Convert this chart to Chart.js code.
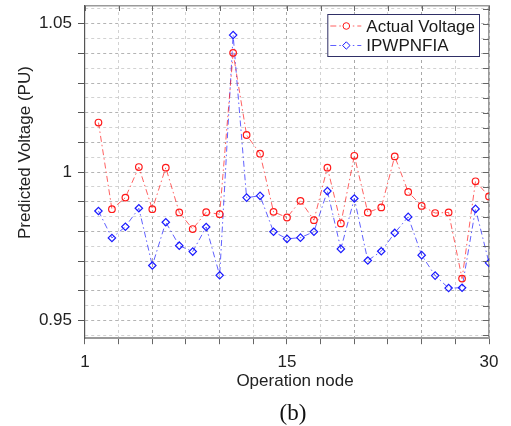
<!DOCTYPE html>
<html>
<head>
<meta charset="utf-8">
<script src="https://cdn.jsdelivr.net/npm/chart.js"></script>
<style>
  html, body { margin: 0; padding: 0; background: #fff; }
  #wrap { width: 511px; height: 426px; }
</style>
</head>
<body>
<div id="wrap"><canvas id="voltageChart" width="511" height="426"></canvas></div>
<script>
// values
const nodes = [1, 2, 3, 4, 5, 6, 7, 8, 9, 10, 11, 12, 13, 14, 15, 16, 17, 18, 19, 20, 21, 22, 23, 24, 25, 26, 27, 28, 29, 30];
const actualVoltage = [1.0167, 0.9875, 0.9914, 1.0017, 0.9875, 1.0015, 0.9864, 0.9808, 0.9865, 0.9858,
    1.0402, 1.0125, 1.0062, 0.9866, 0.9847, 0.9903, 0.9838, 1.0015, 0.9827, 1.0055,
    0.9864, 0.9881, 1.0053, 0.9933, 0.9886, 0.9862, 0.9864, 0.9641, 0.9969, 0.9918];
const ipwpnfia = [0.9869, 0.9778, 0.9816, 0.9878, 0.9685, 0.9831, 0.9752, 0.9732, 0.9815, 0.9652,
    1.0462, 0.9914, 0.9920, 0.9799, 0.9775, 0.9779, 0.9799, 0.9936, 0.9741, 0.9911,
    0.9702, 0.9733, 0.9795, 0.9849, 0.9720, 0.9651, 0.9609, 0.9610, 0.9876, 0.9694];
const seriesNames = ['Actual Voltage', 'IPWPNFIA'];
const xTickValues = [0, 15, 30];
const xTickLabels = ['1', '15', '30'];
const yTickValues = [0.95, 1, 1.05];
const yTickLabels = ['0.95', '1', '1.05'];
const xTitle = 'Operation node';
const yTitle = 'Predicted Voltage (PU)';
const subCaption = '(b)';

const FONT = "'Liberation Sans', Arial, sans-serif";
const SERIF = "'Liberation Serif', 'Times New Roman', serif";
const near = (a, b) => Math.abs(a - b) < 1e-6;
const isCent = v => near(Math.round(v * 100) / 100, v);
const toPoints = (vals) => vals.map((v, i) => ({ x: nodes[i], y: v }));

// legend box inside the axes, top right
const boxLegend = {
    id: 'boxLegend',
    afterDraw(chart) {
        const ctx = chart.ctx;
        const area = chart.chartArea;
        ctx.save();
        ctx.font = '17px ' + FONT;
        let textW = 0;
        seriesNames.forEach(n => { textW = Math.max(textW, ctx.measureText(n).width); });
        const w = textW + 43, h = 42;
        const left = area.right - 10 - w, top = area.top + 8;
        ctx.fillStyle = '#fff';
        ctx.fillRect(left, top, w, h);
        ctx.strokeStyle = '#2f2f66';
        ctx.lineWidth = 1;
        ctx.strokeRect(left + 0.5, top + 0.5, w, h);
        chart.data.datasets.forEach((ds, i) => {
            const y = top + 12 + i * 19.5;
            ctx.strokeStyle = ds.borderColor;
            ctx.setLineDash(ds.borderDash);
            ctx.beginPath();
            ctx.moveTo(left + 3, y);
            ctx.lineTo(left + 34, y);
            ctx.stroke();
            ctx.setLineDash([]);
            ctx.strokeStyle = ds.pointBorderColor;
            ctx.fillStyle = '#fff';
            const cx = left + 19, r = ds.pointRadius;
            ctx.beginPath();
            if (ds.pointStyle === 'rectRot') {
                ctx.moveTo(cx - r, y); ctx.lineTo(cx, y - r); ctx.lineTo(cx + r, y); ctx.lineTo(cx, y + r); ctx.closePath();
            } else {
                ctx.arc(cx, y, r, 0, Math.PI * 2);
            }
            ctx.fill();
            ctx.stroke();
            ctx.fillStyle = '#1a1a1a';
            ctx.textBaseline = 'middle';
            ctx.fillText(seriesNames[i], left + 39, y + 1);
        });
        ctx.restore();
    }
};

// inward tick marks on top and right frame
const frameTicks = {
    id: 'frameTicks',
    afterDatasetsDraw(chart) {
        const ctx = chart.ctx, a = chart.chartArea;
        const sx = chart.scales.x, sy = chart.scales.y;
        ctx.save();
        ctx.strokeStyle = '#666';
        ctx.lineWidth = 1;
        ctx.beginPath();
        sx.ticks.forEach(t => {
            const px = Math.round(sx.getPixelForValue(t.value)) + 0.5;
            ctx.moveTo(px, a.top); ctx.lineTo(px, a.top + 5);
        });
        sy.ticks.forEach(t => {
            const py = Math.round(sy.getPixelForValue(t.value)) + 0.5;
            ctx.moveTo(a.right, py); ctx.lineTo(a.right - 6, py);
        });
        ctx.stroke();
        ctx.restore();
    }
};

// axis titles sit a little off-centre in the original figure;
// the scale titles only reserve the space, these draw the text
const offsetTitles = {
    id: 'offsetTitles',
    afterDraw(chart) {
        const ctx = chart.ctx, a = chart.chartArea;
        const cx = (a.left + a.right) / 2, cy = (a.top + a.bottom) / 2;
        ctx.save();
        ctx.fillStyle = '#222';
        ctx.textAlign = 'center';
        ctx.textBaseline = 'middle';
        ctx.font = '17px ' + FONT;
        ctx.fillText(xTitle, cx + 8, a.bottom + 43.5);
        ctx.save();
        ctx.translate(a.left - 59.2, cy - 19.5);
        ctx.rotate(-Math.PI / 2);
        ctx.fillText(yTitle, 0, 0);
        ctx.restore();
        ctx.fillStyle = '#111';
        ctx.font = '23px ' + SERIF;
        ctx.fillText(subCaption, cx + 6, a.bottom + 75.5);
        ctx.restore();
    }
};

const HIDDEN = 'rgba(0,0,0,0)';

new Chart(document.getElementById('voltageChart').getContext('2d'), {
    type: 'line',
    data: {
        datasets: [{
            label: seriesNames[0],
            data: toPoints(actualVoltage),
            borderColor: 'rgba(255, 30, 30, 0.7)',
            borderWidth: 1,
            borderDash: [6, 3, 1.5, 3],
            pointStyle: 'circle',
            pointRadius: 3.3,
            pointBorderWidth: 1.2,
            pointBorderColor: '#ff1a1a',
            pointBackgroundColor: HIDDEN,
            tension: 0
        }, {
            label: seriesNames[1],
            data: toPoints(ipwpnfia),
            borderColor: 'rgba(30, 30, 255, 0.7)',
            borderWidth: 1,
            borderDash: [6, 3, 1.5, 3],
            pointStyle: 'rectRot',
            pointRadius: 3.7,
            pointBorderWidth: 1.2,
            pointBorderColor: '#1a1aff',
            pointBackgroundColor: HIDDEN,
            tension: 0
        }]
    },
    options: {
        responsive: false,
        animation: false,
        events: [],
        layout: { padding: { left: 17.3, right: 22, top: 6, bottom: 1.3 } },
        scales: {
            x: {
                type: 'linear',
                min: 0,
                max: 30,
                afterFit: s => { s.paddingLeft = 0; s.paddingRight = 0; },
                grid: {
                    color: ctx => (ctx.tick && ctx.tick.value % 5 === 0) ? '#a8a8a8' : '#d2d2d2',
                    tickLength: 6,
                    tickColor: '#666',
                    tickBorderDash: []
                },
                border: { display: true, color: '#9a9a9a', width: 2, dash: [3, 3] },
                ticks: {
                    stepSize: 2.5,
                    autoSkip: false,
                    maxRotation: 0,
                    padding: 9,
                    color: '#222',
                    font: { size: 17, family: FONT, lineHeight: 1.1 },
                    callback: v => {
                        const i = xTickValues.findIndex(t => near(t, v));
                        return i >= 0 ? xTickLabels[i] : '';
                    }
                },
                title: {
                    display: true,
                    text: xTitle,
                    color: HIDDEN,
                    font: { size: 17, family: FONT, lineHeight: 1 },
                    padding: { top: -8.2, bottom: 2 }
                }
            },
            xb: {
                type: 'linear',
                position: 'bottom',
                min: 0,
                max: 30,
                grid: { display: false, drawTicks: false },
                border: { display: false },
                ticks: { display: false },
                title: {
                    display: true,
                    text: subCaption,
                    color: HIDDEN,
                    font: { size: 23, family: SERIF, lineHeight: 1 },
                    padding: { top: 10, bottom: 0 }
                }
            },
            x2: {
                type: 'linear',
                position: 'top',
                min: 0,
                max: 30,
                grid: { display: false, drawTicks: false },
                border: { display: true, color: '#9a9a9a', width: 1.5 },
                ticks: { display: false }
            },
            y: {
                type: 'linear',
                min: 0.944,
                max: 1.056,
                afterFit: s => { s.paddingTop = 0; s.paddingBottom = 0; },
                grid: {
                    color: ctx => (ctx.tick && isCent(ctx.tick.value)) ? '#b4b4b4' : '#d2d2d2',
                    tickLength: 7,
                    tickBorderDash: [],
                    tickColor: ctx => (ctx.tick && isCent(ctx.tick.value)) ? '#555' : HIDDEN
                },
                border: { display: true, color: '#555', width: 1.2, dash: [3, 3] },
                ticks: {
                    stepSize: 0.005,
                    includeBounds: false,
                    autoSkip: false,
                    padding: 6,
                    color: '#222',
                    font: { size: 17, family: FONT },
                    callback: v => {
                        const i = yTickValues.findIndex(t => near(t, v));
                        return i >= 0 ? yTickLabels[i] : '';
                    }
                },
                title: {
                    display: true,
                    text: yTitle,
                    color: HIDDEN,
                    font: { size: 17, family: FONT, lineHeight: 1 },
                    padding: { top: 0, bottom: -1.4 }
                }
            },
            y2: {
                type: 'linear',
                position: 'right',
                min: 0.944,
                max: 1.056,
                afterFit: s => { s.paddingTop = 0; s.paddingBottom = 0; },
                grid: { display: false, drawTicks: false },
                border: { display: true, color: '#9a9a9a', width: 1.5 },
                ticks: { display: false }
            }
        },
        plugins: {
            legend: { display: false },
            tooltip: { enabled: false }
        }
    },
    plugins: [frameTicks, boxLegend, offsetTitles]
});
</script>
</body>
</html>
